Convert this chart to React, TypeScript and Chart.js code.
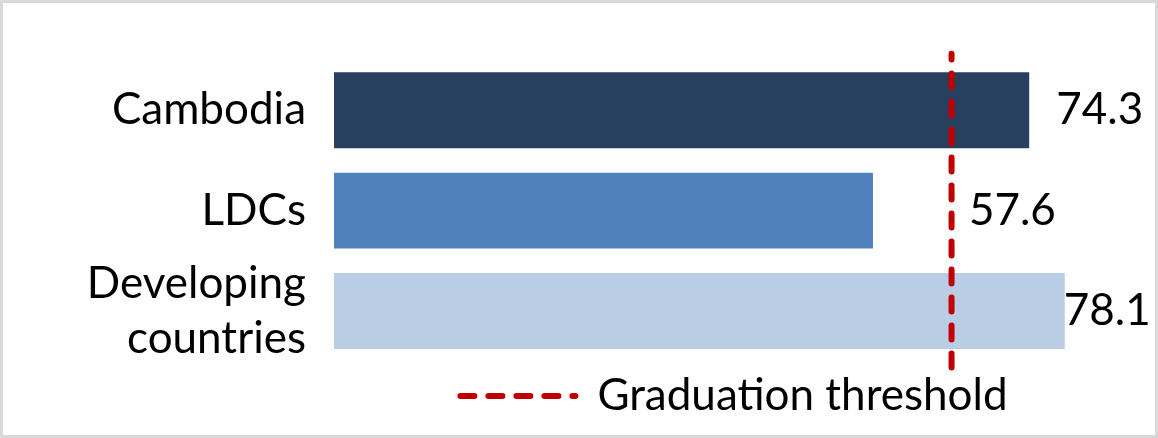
import { useEffect, useRef } from 'react';
import { Chart, registerables } from 'chart.js';

Chart.register(...registerables);

const CATEGORIES = ['Cambodia', 'LDCs', ['Developing', 'countries']];
const VALUES = [74.3, 57.6, 78.1];
const THRESHOLD = 66;
const THRESHOLD_LABEL = 'Graduation threshold';
const BAR_COLORS = ['#27405f', '#4f81bd', '#b9cde5'];
const LINE_COLOR = '#c00000';

const FONT = 'Lato';
const FONT_SIZE = 44;

// подписи значений справа от столбцов (сдвиг как в исходнике)
const valueLabels = {
	id: 'valueLabels',
	afterDatasetsDraw(chart: Chart, _args: unknown, opts: { offsets: number[] }) {
		const meta = chart.getDatasetMeta(0);
		const ctx = chart.ctx;
		ctx.save();
		ctx.font = `${FONT_SIZE}px ${FONT}`;
		ctx.fillStyle = '#000';
		ctx.textAlign = 'left';
		ctx.textBaseline = 'middle';
		meta.data.forEach((bar, i) => {
			ctx.fillText(VALUES[i].toFixed(1), bar.x + opts.offsets[i], bar.y);
		});
		ctx.restore();
	},
};

export default function App() {
	const canvasRef = useRef<HTMLCanvasElement>(null);
	const chartRef = useRef<Chart | null>(null);

	useEffect(() => {
		if (!canvasRef.current) return;
		if (chartRef.current) chartRef.current.destroy();

		chartRef.current = new Chart(canvasRef.current, {
			type: 'bar',
			data: {
				labels: CATEGORIES,
				datasets: [
					{
						label: 'Value',
						data: VALUES,
						backgroundColor: BAR_COLORS,
						categoryPercentage: 1,
						barPercentage: 0.756,
						grouped: false,
						order: 1,
					},
					{
						type: 'line',
						label: THRESHOLD_LABEL,
						data: [
							{ x: THRESHOLD, y: 0 },
							{ x: THRESHOLD, y: 1 },
						],
						xAxisID: 'x',
						yAxisID: 'y2',
						borderColor: LINE_COLOR,
						backgroundColor: LINE_COLOR,
						borderWidth: 6,
						borderDash: [14, 14],
						borderCapStyle: 'round',
						pointRadius: 0,
						pointStyle: 'line',
						clip: false,
						order: 0,
					} as any,
				],
			},
			options: {
				indexAxis: 'y',
				animation: false,
				responsive: true,
				maintainAspectRatio: false,
				layout: {
					padding: { left: 0, right: 21, top: 57, bottom: 7 },
				},
				plugins: {
					tooltip: { enabled: false },
					legend: {
						position: 'bottom',
						fullSize: false,
						labels: {
							usePointStyle: true,
							pointStyleWidth: 115,
							padding: 12.75,
							color: '#000',
							font: { family: FONT, size: FONT_SIZE },
							filter: (item) => item.datasetIndex === 1,
							generateLabels: (chart) =>
								Chart.defaults.plugins.legend.labels.generateLabels(chart).map((item) => ({
									...item,
									lineDash: [14, 14],
									lineCap: 'round' as CanvasLineCap,
									lineWidth: 6,
									strokeStyle: LINE_COLOR,
								})),
						},
					},
					valueLabels: { offsets: [27, 96, -1] },
				} as any,
				scales: {
					x: {
						type: 'linear',
						min: 0,
						max: 85.5,
						display: false,
					},
					y: {
						type: 'category',
						grid: { display: false },
						border: { display: false },
						ticks: {
							color: '#000',
							padding: 20,
							autoSkip: false,
							font: { family: FONT, size: FONT_SIZE, lineHeight: 1.25 },
						},
						afterFit: (axis) => {
							axis.width = 331;
							axis.paddingTop = 0;
							axis.paddingBottom = 0;
						},
					},
					y2: {
						type: 'linear',
						min: 0.02,
						max: 0.98,
						offset: false,
						display: false,
					},
				},
			},
			plugins: [valueLabels],
		});

		return () => {
			if (chartRef.current) {
				chartRef.current.destroy();
				chartRef.current = null;
			}
		};
	}, []);

	return (
		<div
			style={{
				position: 'absolute',
				left: 0,
				top: 0,
				width: 1158,
				height: 438,
				boxSizing: 'border-box',
				border: '3px solid #d9d9d9',
				background: '#fff',
			}}
		>
			<div style={{ position: 'relative', width: '100%', height: '100%' }}>
				<canvas ref={canvasRef} style={{ display: 'block' }}></canvas>
			</div>
		</div>
	);
}
